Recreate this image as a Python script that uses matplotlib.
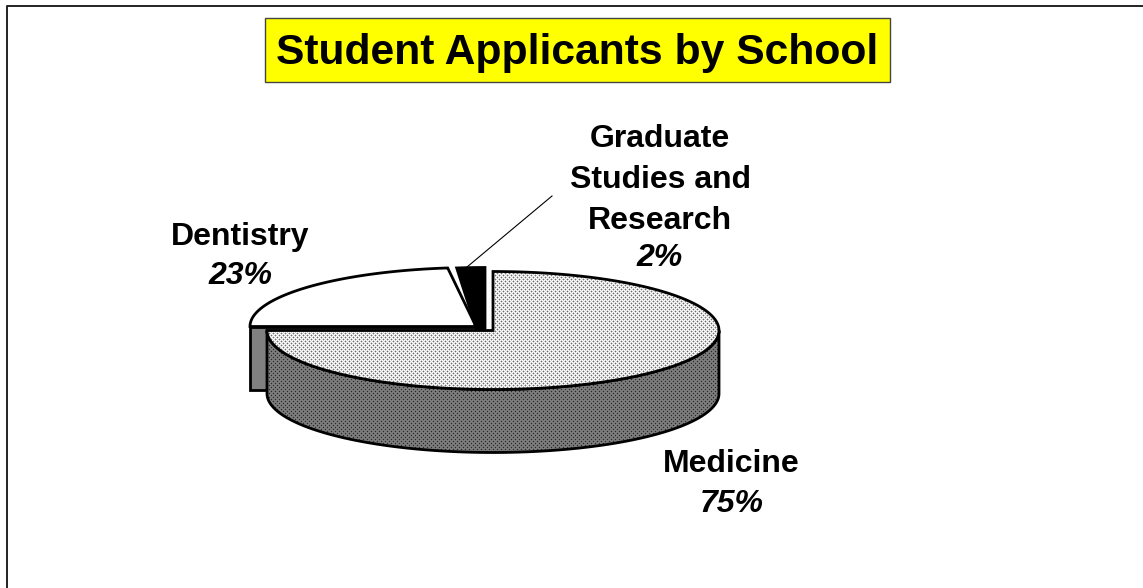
import numpy as np
import matplotlib
matplotlib.use("Agg")
import matplotlib.pyplot as plt
from matplotlib.patches import Polygon, Rectangle

# data
schools = ["Medicine", "Dentistry", "Graduate\nStudies and\nResearch"]
shares = [75, 23, 2]
pct_labels = ["75%", "23%", "2%"]

plt.rcParams["font.family"] = ["Liberation Sans", "DejaVu Sans"]

# pixel coordinates, y going down
fig = plt.figure(figsize=(11.43, 5.88), dpi=100)
ax = fig.add_axes([0, 0, 1, 1])
ax.set_xlim(0, 1143)
ax.set_ylim(588, 0)
ax.axis("off")

# outer frame only shows on top and left
ax.plot([1143, 6.5, 6.5], [5.5, 5.5, 588], color="#222222", lw=1.4, solid_capstyle="butt")

# title
ax.add_patch(Rectangle((264.5, 17.5), 625, 64, fc="#ffff00", ec="#444444", lw=1))
ax.text(577, 53, "Student Applicants by School", fontsize=30.7, fontweight="bold",
        ha="center", va="center", color="black")

# pie geometry
rx, ry, depth = 226, 59, 63
centers = {"med": (493, 330.5), "den": (476, 326.5), "grad": (485, 326.5)}
lw = 2.0

# sweep angles from the shares, clockwise from the top
sweeps = [s / sum(shares) * 360 for s in shares]
a0 = 90
a1 = a0 - sweeps[0]        # medicine end
a2 = a1 - sweeps[1]        # dentistry end
a3 = a2 - sweeps[2]        # graduate end


def arc(cx, cy, start, stop, n=200):
    t = np.radians(np.linspace(start, stop, n))
    return np.column_stack([cx + rx * np.cos(t), cy - ry * np.sin(t)])


def wedge(cx, cy, start, stop):
    return np.vstack([[cx, cy], arc(cx, cy, start, stop)])


# stipple texture, tiled over the figure and clipped to a patch
def stipple(patch, base, alt, dot):
    tile = np.full((4, 4), base, dtype=float)
    tile[::2, 1::2] = alt
    tile[1::2, ::2] = alt
    tile[1, 1] = dot
    tile[3, 3] = dot
    img = np.tile(tile, (147, 286))
    im = ax.imshow(img, cmap="gray", vmin=0, vmax=255, extent=(0, 1144, 588, 0),
                   interpolation="nearest", aspect="auto", zorder=patch.get_zorder())
    im.set_clip_path(patch)
    ax.set_xlim(0, 1143)
    ax.set_ylim(588, 0)


# dentistry side wall
cx, cy = centers["den"]
ax.add_patch(Polygon([(cx - rx, cy), (cx - rx, cy + depth), (cx, cy + depth), (cx, cy)],
                     fc="#808080", ec="black", lw=lw, zorder=2))

# medicine side wall
cx, cy = centers["med"]
front = arc(cx, cy, 180, 360)
side_pts = np.vstack([front, (front + [0, depth])[::-1]])
side = Polygon(side_pts, fc="none", ec="none", zorder=3)
ax.add_patch(side)
stipple(side, 128, 112, 40)
ax.add_patch(Polygon(side_pts, fc="none", ec="black", lw=lw, zorder=4))

# dentistry top
cx, cy = centers["den"]
ax.add_patch(Polygon(wedge(cx, cy, a1, a2), fc="white", ec="black", lw=lw, zorder=5))

# graduate top, its inner wall shows as black down to the medicine slice
cx, cy = centers["grad"]
grad_pts = np.vstack([[(cx, centers["med"][1]), (centers["den"][0] + 1, centers["med"][1])],
                      arc(cx, cy, a2, a3)])
ax.add_patch(Polygon(grad_pts, fc="black", ec="black", lw=lw, zorder=6))

# medicine top
cx, cy = centers["med"]
med_pts = wedge(cx, cy, a0, a1)
med = Polygon(med_pts, fc="white", ec="none", zorder=7)
ax.add_patch(med)
stipple(med, 255, 205, 110)
ax.add_patch(Polygon(med_pts, fc="none", ec="black", lw=lw, zorder=8))

# leader line to the small slice
ax.plot([467, 552], [267, 196], color="black", lw=0.8, zorder=9)

# labels
lab = dict(fontsize=23, ha="center", va="center", color="black", fontweight="bold")
ax.text(731.5, 464.5, schools[0], **lab)
ax.text(731.5, 504.5, pct_labels[0], fontstyle="italic", **lab)
ax.text(240, 236.5, schools[1], **lab)
ax.text(240, 276.5, pct_labels[1], fontstyle="italic", **lab)
ax.text(660, 180, schools[2], linespacing=1.46, **lab)
ax.text(660, 258, pct_labels[2], fontstyle="italic", **lab)

fig.savefig("out.png", dpi=100)
